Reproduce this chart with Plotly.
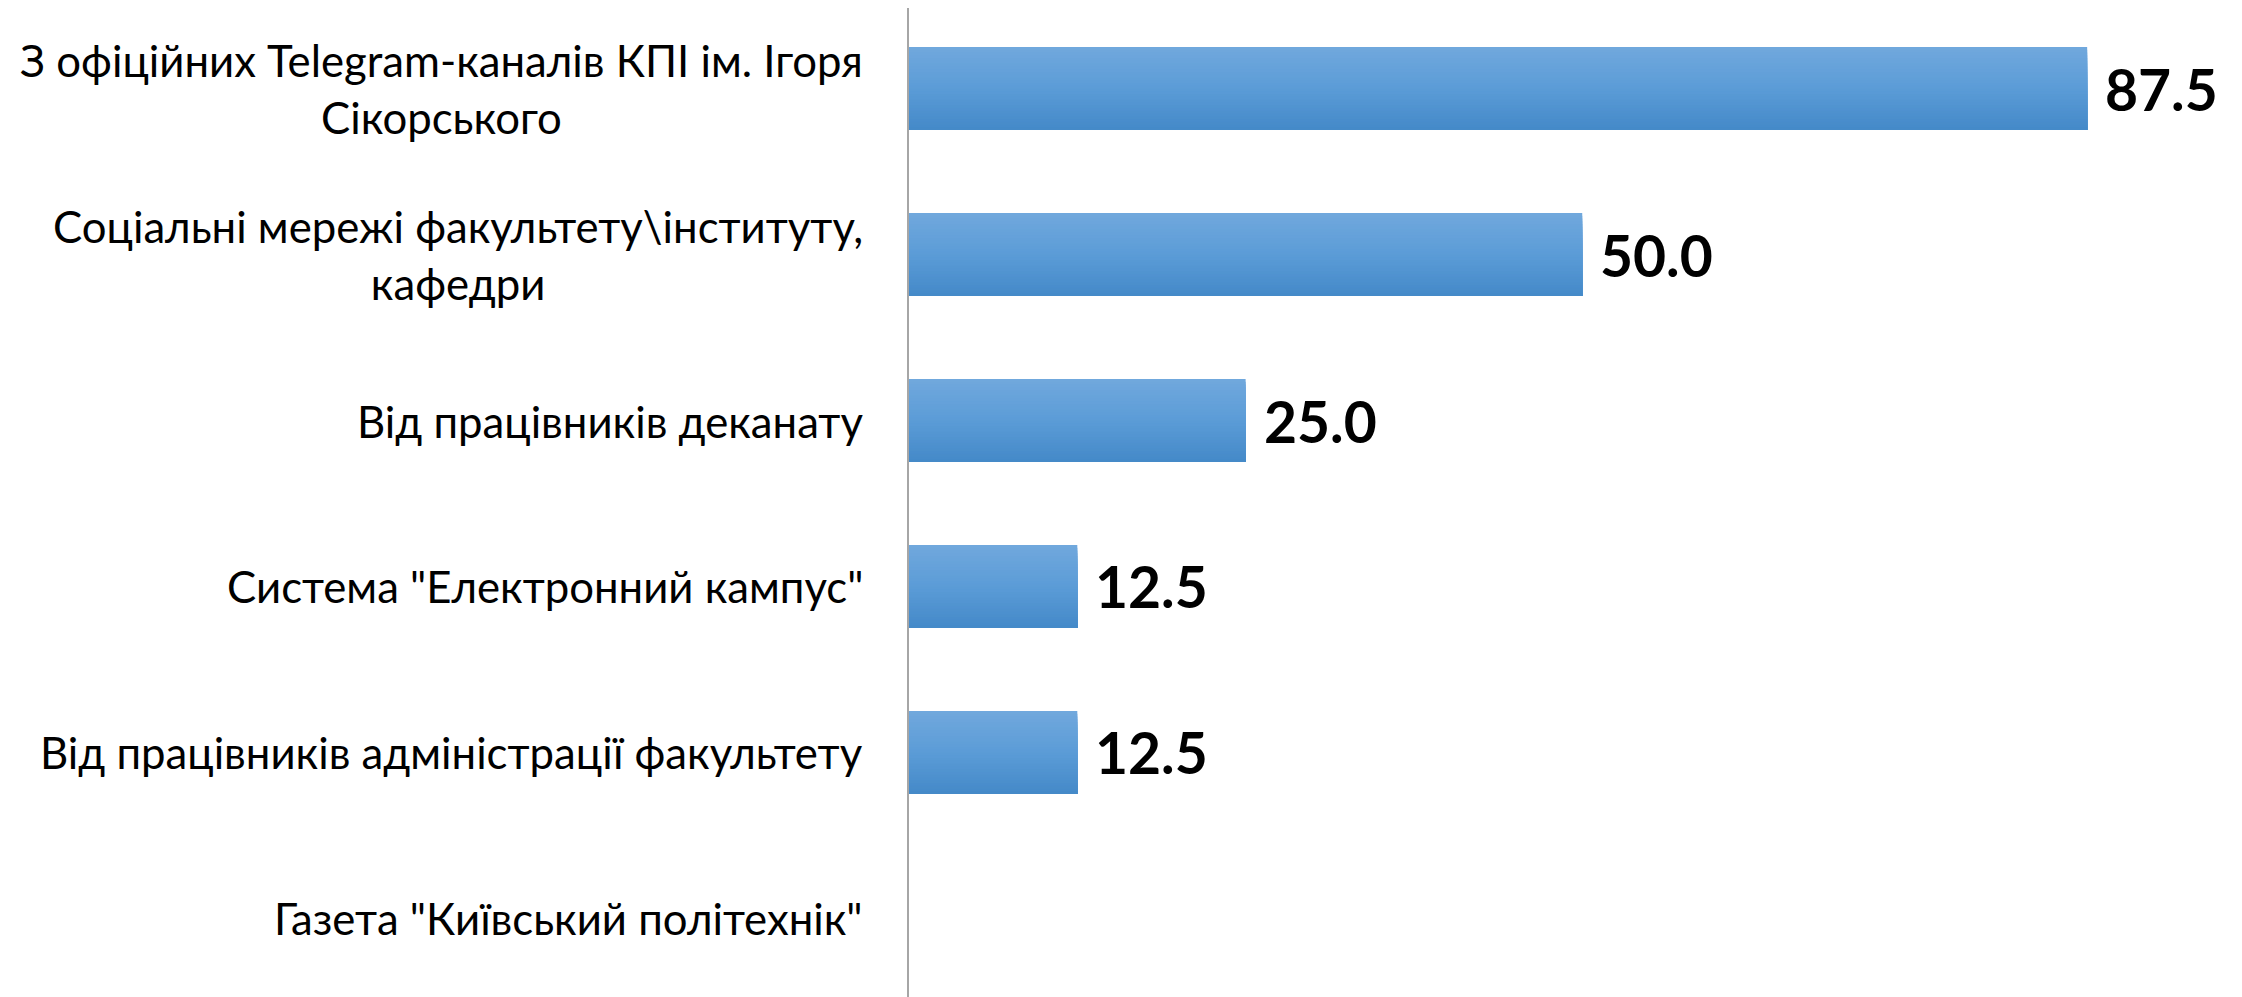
import plotly.graph_objects as go

# Sources of information (share of respondents, %)
categories = [
    "З офіційних Telegram-каналів КПІ ім. Ігоря<br>Сікорського",
    "Соціальні мережі факультету\\інституту,<br>кафедри",
    "Від працівників деканату",
    "Система \"Електронний кампус\"",
    "Від працівників адміністрації факультету",
    "Газета \"Київський політехнік\"",
]
values = [87.5, 50.0, 25.0, 12.5, 12.5, 0.0]

# vertical gradient of the bars: top, middle, bottom
GRAD_TOP = (113, 168, 221)
GRAD_MID = (91, 156, 215)
GRAD_BOT = (68, 137, 200)
FONT = "Lato"
BAR_W = 0.5
N_STRIPS = 30


def grad_color(t):
    if t < 0.5:
        a, b, u = GRAD_TOP, GRAD_MID, t / 0.5
    else:
        a, b, u = GRAD_MID, GRAD_BOT, (t - 0.5) / 0.5
    r, g, bl = (round(a[i] + (b[i] - a[i]) * u) for i in range(3))
    return f"rgb({r},{g},{bl})"


positions = list(range(len(categories)))

fig = go.Figure()

# each bar is drawn as stacked horizontal strips to get the gradient fill
step = BAR_W / N_STRIPS
for k in range(N_STRIPS):
    fig.add_trace(go.Bar(
        x=values,
        y=positions,
        orientation="h",
        offset=-BAR_W / 2 + k * step,
        width=BAR_W - k * step,
        marker=dict(color=grad_color((k + 0.5) / N_STRIPS), line=dict(width=0)),
        hoverinfo="skip",
    ))

annotations = []
# category labels, centred lines, right-anchored next to the axis
for i, cat in enumerate(categories):
    annotations.append(dict(
        x=0, xref="paper", xanchor="right", xshift=-44,
        y=positions[i], yref="y", yanchor="middle",
        text=cat, align="center", showarrow=False,
        font=dict(family=FONT, size=43.7, color="#000000"),
    ))
# value labels at the end of each bar
for i, v in enumerate(values):
    if v <= 0:
        continue
    annotations.append(dict(
        x=v, xref="x", xanchor="left", xshift=16,
        y=positions[i], yref="y", yanchor="middle",
        text=f"<b>{v:.1f}</b>", showarrow=False,
        font=dict(family=FONT, size=57, color="#000000"),
    ))

# page body adds an 8px offset, so the figure is sized a bit smaller
fig.update_layout(
    width=2234,
    height=989,
    margin=dict(l=901, r=0, t=0, b=0),
    paper_bgcolor="white",
    plot_bgcolor="white",
    showlegend=False,
    barmode="overlay",
    annotations=annotations,
    xaxis=dict(
        range=[0, 99],
        visible=False,
        showgrid=False,
        zeroline=False,
    ),
    yaxis=dict(
        range=[5.473, -0.485],
        showticklabels=False,
        showgrid=False,
        zeroline=False,
        showline=True,
        linecolor="#a6a6a6",
        linewidth=2,
        ticks="",
    ),
)

fig.write_html("out.html")
